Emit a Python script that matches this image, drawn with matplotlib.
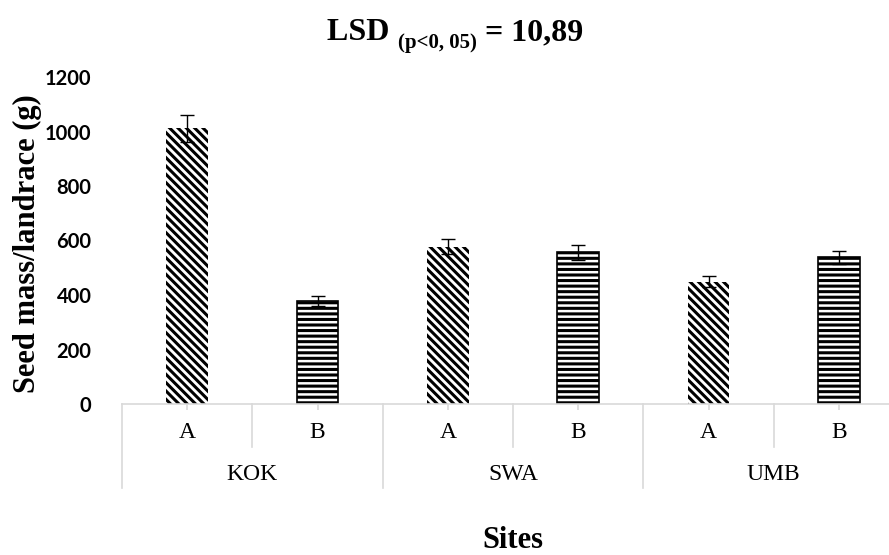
import matplotlib
matplotlib.use("Agg")
import matplotlib.pyplot as plt
import matplotlib.transforms as mtransforms
import numpy as np

# данные
sites = ['KOK', 'SWA', 'UMB']
groups = ['A', 'B']
values = [1012, 378, 577, 557, 448, 538]
errors = [50, 18, 27, 27, 20, 25]

W, H = 889, 555
plt.rcParams['hatch.linewidth'] = 2.2
plt.rcParams['hatch.color'] = 'black'

fig = plt.figure(figsize=(W / 100, H / 100), dpi=100)

# оси в пикселях: x от 122 до 904, y(0)=404, y(1200)=77
x0, x1 = 122, 904
y0, y1 = 404, 77
ax = fig.add_axes([x0 / W, 1 - y0 / H, (x1 - x0) / W, (y0 - y1) / H])
ax.set_xlim(-0.5, 5.5)
ax.set_ylim(0, 1200)

x = np.arange(len(values))
hatches = ['\\\\\\\\', '---'] * 3
for i in range(len(values)):
    lw = 0 if i % 2 == 0 else 1.2
    ax.bar(x[i], values[i], width=0.32, color='white', edgecolor='black',
           linewidth=lw, hatch=hatches[i], zorder=2)
ax.errorbar(x, values, yerr=errors, fmt='none', ecolor='black',
            elinewidth=1.0, capsize=5, capthick=1.0, zorder=3)

# оформление
for s in ['top', 'right', 'left']:
    ax.spines[s].set_visible(False)
ax.spines['bottom'].set_color('#d9d9d9')
ax.spines['bottom'].set_linewidth(1.2)
ax.set_yticks(range(0, 1201, 200))
ax.set_yticklabels([str(v) for v in range(0, 1201, 200)],
                   fontfamily='Lato', fontweight='bold', fontsize=14.5)
ax.tick_params(axis='y', length=0, pad=22)
ax.set_xticks(x)
ax.set_xticklabels([])
ax.tick_params(axis='x', length=4, color='#d9d9d9', width=1.2)

# разделители категорий под осью
tr = mtransforms.blended_transform_factory(ax.transData, fig.transFigure)
for b in [0.5, 2.5, 4.5]:
    ax.plot([b, b], [1 - 404 / H, 1 - 447 / H], color='#d9d9d9', lw=1.2,
            transform=tr, clip_on=False)
for b in [-0.5, 1.5, 3.5, 5.5]:
    ax.plot([b, b], [1 - 404 / H, 1 - 488 / H], color='#d9d9d9', lw=1.2,
            transform=tr, clip_on=False)

for i in range(len(values)):
    ax.text(x[i], 1 - 433 / H, groups[i % 2], transform=tr, ha='center',
            va='center', fontfamily='Liberation Serif', fontsize=17)
for j in range(len(sites)):
    ax.text(2 * j + 0.5, 1 - 475 / H, sites[j], transform=tr, ha='center',
            va='center', fontfamily='Liberation Serif', fontsize=17)

fig.text(27 / W, 1 - 244 / H, 'Seed mass/landrace (g)', rotation=90,
         ha='center', va='center', fontfamily='Liberation Serif',
         fontweight='bold', fontsize=22)
fig.text(513 / W, 1 - 540 / H, 'Sites', ha='center', va='center',
         fontfamily='Liberation Serif', fontweight='bold', fontsize=22)

# заголовок из трёх частей
fig.canvas.draw()
renderer = fig.canvas.get_renderer()
parts = [('LSD ', 23, 0), ('(p<0, 05)', 15, -8), (' = 10,89', 23, 0)]
texts = []
for txt, fs, dy in parts:
    t = fig.text(0, 0, txt, fontfamily='Liberation Serif', fontweight='bold',
                 fontsize=fs, va='baseline', ha='left')
    texts.append((t, dy))
widths = []
for t, dy in texts:
    widths.append(t.get_window_extent(renderer).width)
total = sum(widths)
start = 455 - total / 2
base = 40
for (t, dy), w in zip(texts, widths):
    t.set_position((start / W, 1 - (base - dy) / H))
    start += w

fig.savefig('out.png', dpi=100)
